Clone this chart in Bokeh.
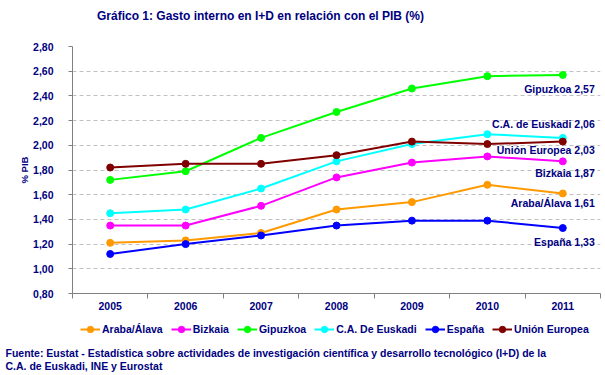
from bokeh.plotting import figure
from bokeh.layouts import column
from bokeh.models import (Range1d, FixedTicker, Legend, LegendItem, ColumnDataSource)
from bokeh.core.properties import value
from bokeh.embed import file_html
from bokeh.resources import INLINE

years = ["2005", "2006", "2007", "2008", "2009", "2010", "2011"]
araba = [1.21, 1.23, 1.29, 1.48, 1.54, 1.68, 1.61]
bizkaia = [1.35, 1.35, 1.51, 1.74, 1.86, 1.91, 1.87]
gipuzkoa = [1.72, 1.79, 2.06, 2.27, 2.46, 2.56, 2.57]
cae = [1.45, 1.48, 1.65, 1.87, 2.01, 2.09, 2.06]
espana = [1.12, 1.20, 1.27, 1.35, 1.39, 1.39, 1.33]
ue = [1.82, 1.85, 1.85, 1.92, 2.03, 2.01, 2.03]

series_names = ["Araba/Álava", "Bizkaia", "Gipuzkoa", "C.A. De Euskadi", "España", "Unión Europea"]
end_labels = ["Araba/Álava 1,61", "Bizkaia 1,87", "Gipuzkoa 2,57", "C.A. de Euskadi 2,06", "España 1,33", "Unión Europea 2,03"]
y_ticks = [0.8, 1.0, 1.2, 1.4, 1.6, 1.8, 2.0, 2.2, 2.4, 2.6, 2.8]
title_text = "Gráfico 1: Gasto interno en I+D en relación con el PIB (%)"
source_lines = ["Fuente: Eustat - Estadística sobre actividades de investigación científica y desarrollo tecnológico (I+D) de la",
                "C.A. de Euskadi, INE y  Eurostat"]

series = [araba, bizkaia, gipuzkoa, cae, espana, ue]
colors = ["#FF9900", "#FF00FF", "#00FF00", "#00FFFF", "#0000FF", "#800000"]
label_dy = [10, 12, 14, -14, 14, 8]  # pixel offsets of end labels (down positive)

NAVY = "#000080"
FONT = "Liberation Sans"
LEFT, RIGHT = 72, 5


def strip(h):
    # frames in a column are aligned with the chart's frame (72..600 px),
    # so the x range maps data units to page pixels
    f = figure(width=605, height=h, output_backend="svg", toolbar_location=None,
               x_range=Range1d(LEFT, 605 - RIGHT), y_range=Range1d(h, 0),
               min_border_left=LEFT, min_border_right=RIGHT, min_border_top=0, min_border_bottom=0,
               x_axis_location=None, y_axis_location=None)
    f.outline_line_color = None
    f.grid.visible = False
    return f


# title strip
t = strip(30)
t.text(x=[260], y=[15], text=[title_text], text_align="center", text_baseline="middle",
       text_color=NAVY, text_font=value(FONT), text_font_style="bold", text_font_size="12px",
       level="overlay")

# main chart
p = figure(width=605, height=284, output_backend="svg", toolbar_location=None,
           x_range=Range1d(-0.5, 6.5), y_range=Range1d(0.8, 2.8),
           min_border_left=LEFT, min_border_right=RIGHT, min_border_top=16, min_border_bottom=21)
p.outline_line_color = None

xs = list(range(len(years)))
for vals, col in zip(series, colors):
    src = ColumnDataSource(dict(x=xs, y=vals))
    p.line("x", "y", source=src, line_color=col, line_width=2)
    p.scatter("x", "y", source=src, marker="circle", size=7, fill_color=col, line_color=col)

for txt, vals, dy in zip(end_labels, series, label_dy):
    p.text(x=[len(years) - 1], y=[vals[-1]], text=[txt], x_offset=32, y_offset=dy,
           text_align="right", text_baseline="middle", text_color=NAVY,
           text_font=value(FONT), text_font_style="bold", text_font_size="10.5px",
           level="overlay")

p.xaxis.ticker = FixedTicker(ticks=xs, minor_ticks=[i - 0.5 for i in range(len(years) + 1)])
p.xaxis.major_label_overrides = {i: y for i, y in enumerate(years)}
p.xaxis.major_tick_out = 0
p.xaxis.major_tick_in = 0
p.xaxis.minor_tick_out = 5
p.xaxis.minor_tick_in = 0
p.xaxis.major_label_standoff = 3
p.yaxis.ticker = FixedTicker(ticks=y_ticks, minor_ticks=[])
p.yaxis.major_label_overrides = {t_: f"{t_:.2f}".replace(".", ",") for t_ in y_ticks}
p.yaxis.major_tick_out = 4
p.yaxis.major_tick_in = 0
p.yaxis.major_label_standoff = 15
p.yaxis.axis_label = "% PIB"
p.yaxis.axis_label_standoff = 0
for ax in (p.xaxis, p.yaxis):
    ax.axis_line_color = "#808080"
    ax.major_tick_line_color = "#808080"
    ax.minor_tick_line_color = "#808080"
    ax.major_label_text_color = NAVY
    ax.major_label_text_font = FONT
    ax.major_label_text_font_style = "bold"
    ax.major_label_text_font_size = "10.5px"
    ax.axis_label_text_color = NAVY
    ax.axis_label_text_font = FONT
    ax.axis_label_text_font_style = "bold"
    ax.axis_label_text_font_size = "9.5px"

p.xgrid.visible = False
p.ygrid.ticker = FixedTicker(ticks=y_ticks)
p.ygrid.grid_line_color = "#c0c0c0"
p.ygrid.grid_line_dash = "4 3"

# legend + source strip
q = strip(61)
items = []
for name, col in zip(series_names, colors):
    # legend swatches: one off-screen point each so that the legend draws them
    l = q.line(x=[-1000, -999], y=[0, 0], line_color=col, line_width=2)
    s = q.scatter(x=[-1000], y=[0], marker="circle", size=7, fill_color=col, line_color=col)
    items.append(LegendItem(label=name, renderers=[l, s]))
legend = Legend(items=items, orientation="horizontal", location=(8, 38),
                glyph_width=20, glyph_height=16, label_standoff=2, spacing=8,
                padding=0, margin=0, border_line_color=None, background_fill_alpha=0,
                label_text_color=NAVY, label_text_font=FONT, label_text_font_style="bold",
                label_text_font_size="10.5px", label_height=16)
q.add_layout(legend)
q.text(x=[5, 5], y=[38, 51], text=source_lines, text_align="left", text_baseline="middle",
       text_color=NAVY, text_font=value(FONT), text_font_style="bold", text_font_size="10.5px",
       level="overlay")

layout = column(t, p, q, spacing=0)
open("out.html", "w").write(file_html(layout, INLINE))
